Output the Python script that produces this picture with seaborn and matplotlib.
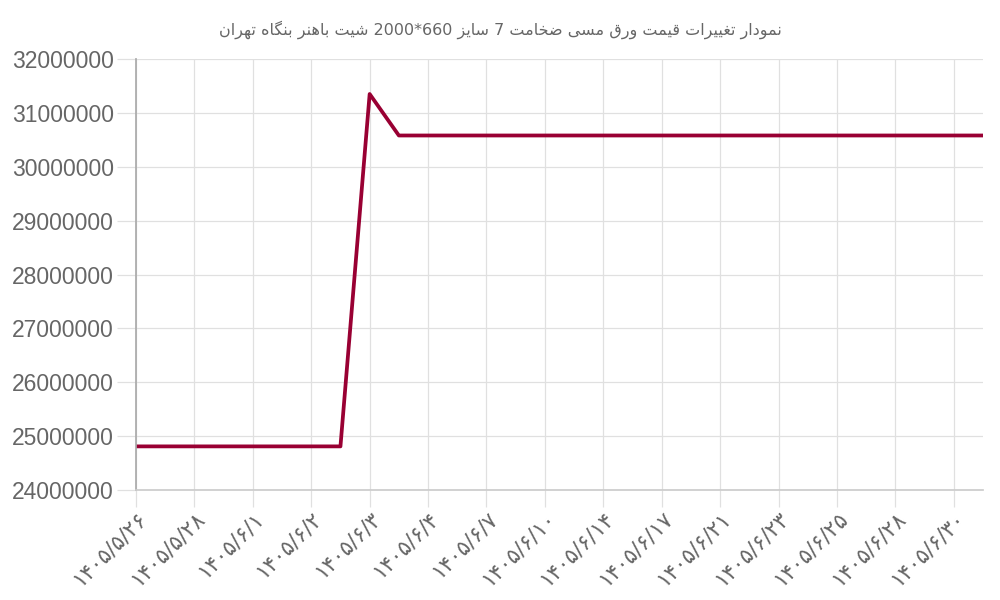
import numpy as np
import matplotlib
matplotlib.use("Agg")
import matplotlib.pyplot as plt
import seaborn as sns
from matplotlib import font_manager, ft2font

# Copper sheet price, one point per trading day (only every 2nd day is labelled)
title = "نمودار تغییرات قیمت ورق مسی ضخامت 7 سایز 660*2000 شیت باهنر بنگاه تهران"
date_labels = ["۱۴۰۵/۵/۲۶", "۱۴۰۵/۵/۲۸", "۱۴۰۵/۶/۱", "۱۴۰۵/۶/۲", "۱۴۰۵/۶/۳",
               "۱۴۰۵/۶/۴", "۱۴۰۵/۶/۷", "۱۴۰۵/۶/۱۰", "۱۴۰۵/۶/۱۴", "۱۴۰۵/۶/۱۷",
               "۱۴۰۵/۶/۲۱", "۱۴۰۵/۶/۲۳", "۱۴۰۵/۶/۲۵", "۱۴۰۵/۶/۲۸", "۱۴۰۵/۶/۳۰"]
prices = [24810000] * 8 + [31350000] + [30580000] * 21
y_ticks = [24000000, 25000000, 26000000, 27000000, 28000000,
           29000000, 30000000, 31000000, 32000000]

# --- minimal Persian shaping (matplotlib does no Arabic shaping / bidi) ---
cmap = ft2font.FT2Font(font_manager.findfont("DejaVu Sans")).get_charmap()
FORMS = {  # iso, fin, ini, med
    "ا": (0xFE8D, 0xFE8E, None, None), "د": (0xFEA9, 0xFEAA, None, None),
    "ر": (0xFEAD, 0xFEAE, None, None), "ز": (0xFEAF, 0xFEB0, None, None),
    "و": (0xFEED, 0xFEEE, None, None),
    "ب": (0xFE8F, 0xFE90, 0xFE91, 0xFE92), "ت": (0xFE95, 0xFE96, 0xFE97, 0xFE98),
    "خ": (0xFEA5, 0xFEA6, 0xFEA7, 0xFEA8), "س": (0xFEB1, 0xFEB2, 0xFEB3, 0xFEB4),
    "ش": (0xFEB5, 0xFEB6, 0xFEB7, 0xFEB8), "ض": (0xFEBD, 0xFEBE, 0xFEBF, 0xFEC0),
    "غ": (0xFECD, 0xFECE, 0xFECF, 0xFED0), "ق": (0xFED5, 0xFED6, 0xFED7, 0xFED8),
    "م": (0xFEE1, 0xFEE2, 0xFEE3, 0xFEE4), "ن": (0xFEE5, 0xFEE6, 0xFEE7, 0xFEE8),
    "ه": (0xFEE9, 0xFEEA, 0xFEEB, 0xFEEC),
    "ی": (0xFBFC, 0xFBFD, 0xFBFE, 0xFBFF), "گ": (0xFB92, 0xFB93, 0xFB94, 0xFB95),
}
if 0xFBFC not in cmap:
    FORMS["ی"] = (0xFEEF, 0xFEF0, 0xFEF3, 0xFEF4)


def shape_rtl(text):
    out = []
    for i, ch in enumerate(text):
        if ch not in FORMS:
            out.append(ch)
            continue
        prev = text[i - 1] if i > 0 else ""
        nxt = text[i + 1] if i + 1 < len(text) else ""
        f = FORMS[ch]
        join_prev = prev in FORMS and FORMS[prev][2] is not None
        join_next = nxt in FORMS and f[2] is not None
        if join_prev and join_next:
            code = f[3]
        elif join_prev:
            code = f[1]
        elif join_next:
            code = f[2]
        else:
            code = f[0]
        out.append(chr(code) if code in cmap else ch)
    # visual order: reverse everything, keep digit runs left-to-right
    tokens, buf = [], ""
    for ch in out:
        if ch.isdigit():
            buf += ch
        else:
            if buf:
                tokens.append(buf)
                buf = ""
            tokens.append(ch)
    if buf:
        tokens.append(buf)
    return "".join(reversed(tokens))


sns.set_theme(style="white")
plt.rcParams["font.family"] = ["Liberation Sans", "DejaVu Sans"]

grid_c = "#e0e0e0"
text_c = "#666666"

fig = plt.figure(figsize=(10, 6), dpi=100)
ax = fig.add_axes([0.136, 0.1833, 0.847, 0.7184])

x = np.arange(len(prices))
sns.lineplot(x=x, y=prices, ax=ax, color="#990033", linewidth=2.7)

ax.set_xlim(0, len(prices) - 1)
ax.set_ylim(y_ticks[0], y_ticks[-1])
ax.set_xticks(x[::2])
ax.set_xticklabels(date_labels, rotation=45, ha="right", rotation_mode="anchor",
                   fontsize=15.5, color=text_c, family="DejaVu Sans")
ax.set_yticks(y_ticks)
ax.set_yticklabels([str(v) for v in y_ticks], fontsize=16.5, color=text_c)

ax.grid(True, color=grid_c, linewidth=0.9)
ax.tick_params(axis="both", which="major", length=14, width=0.9, color=grid_c, pad=2,
               bottom=True, left=True)
ax.tick_params(axis="x", length=12, pad=1)
for side in ["top", "right"]:
    ax.spines[side].set_visible(False)
ax.spines["left"].set_color("#aaaaaa")
ax.spines["bottom"].set_color("#cccccc")
ax.set_xlabel("")
ax.set_ylabel("")

fig.text(0.5, 1 - 30 / 600, shape_rtl(title), ha="center", va="center",
         fontsize=11.5, color=text_c, family="DejaVu Sans")

fig.savefig("out.png", dpi=100)
